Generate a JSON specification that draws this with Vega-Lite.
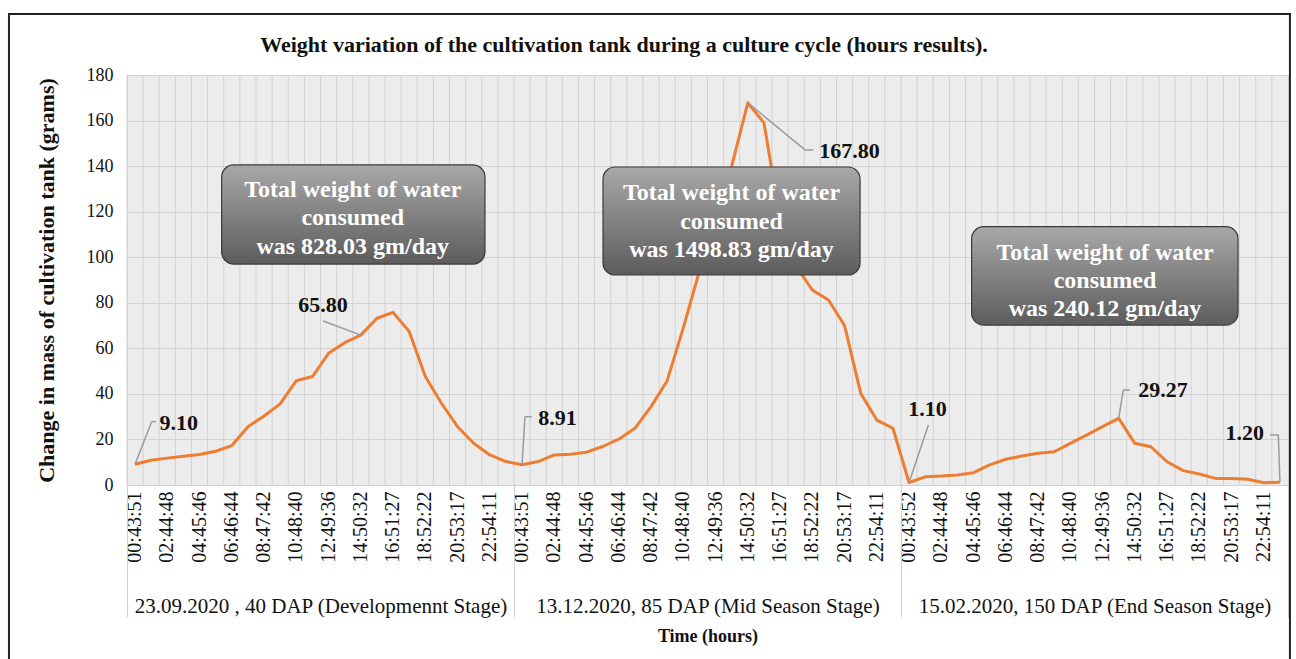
{
  "$schema": "https://vega.github.io/schema/vega-lite/v6.json",
  "width": 1161,
  "height": 410,
  "autosize": {"type": "none"},
  "padding": {"left": 127, "top": 75, "right": 8, "bottom": 174},
  "background": "white",
  "config": {
    "font": "Liberation Serif",
    "text": {"font": "Liberation Serif"},
    "view": {"fill": "#ececec", "stroke": "#d4d4d4"}
  },
  "data": {"values": [{}]},
  "datasets": {
    "series": [
      {"k": "1|00:43:51", "v": 9.10}, {"k": "1|h01", "v": 10.9}, {"k": "1|02:44:48", "v": 11.8}, {"k": "1|h03", "v": 12.6},
      {"k": "1|04:45:46", "v": 13.4}, {"k": "1|h05", "v": 14.8}, {"k": "1|06:46:44", "v": 17.3}, {"k": "1|h07", "v": 25.6},
      {"k": "1|08:47:42", "v": 30.3}, {"k": "1|h09", "v": 35.6}, {"k": "1|10:48:40", "v": 45.8}, {"k": "1|h11", "v": 47.6},
      {"k": "1|12:49:36", "v": 57.8}, {"k": "1|h13", "v": 62.5}, {"k": "1|14:50:32", "v": 65.80}, {"k": "1|h15", "v": 73.2},
      {"k": "1|16:51:27", "v": 75.8}, {"k": "1|h17", "v": 67.4}, {"k": "1|18:52:22", "v": 47.6}, {"k": "1|h19", "v": 35.9},
      {"k": "1|20:53:17", "v": 25.6}, {"k": "1|h21", "v": 18.3}, {"k": "1|22:54:11", "v": 13.2}, {"k": "1|h23", "v": 10.3},
      {"k": "2|00:43:51", "v": 8.91}, {"k": "2|h01", "v": 10.3}, {"k": "2|02:44:48", "v": 13.2}, {"k": "2|h03", "v": 13.5},
      {"k": "2|04:45:46", "v": 14.4}, {"k": "2|h05", "v": 16.9}, {"k": "2|06:46:44", "v": 20.1}, {"k": "2|h07", "v": 24.9},
      {"k": "2|08:47:42", "v": 34.4}, {"k": "2|h09", "v": 45.8}, {"k": "2|10:48:40", "v": 69.0}, {"k": "2|h11", "v": 94.0},
      {"k": "2|12:49:36", "v": 117.0}, {"k": "2|h13", "v": 140.0}, {"k": "2|14:50:32", "v": 167.80}, {"k": "2|h15", "v": 159.0},
      {"k": "2|16:51:27", "v": 117.0}, {"k": "2|h17", "v": 96.0}, {"k": "2|18:52:22", "v": 85.6}, {"k": "2|h19", "v": 81.2},
      {"k": "2|20:53:17", "v": 70.0}, {"k": "2|h21", "v": 40.3}, {"k": "2|22:54:11", "v": 28.5}, {"k": "2|h23", "v": 24.9},
      {"k": "3|00:43:52", "v": 1.10}, {"k": "3|h01", "v": 3.6}, {"k": "3|02:44:48", "v": 3.9}, {"k": "3|h03", "v": 4.4},
      {"k": "3|04:45:46", "v": 5.4}, {"k": "3|h05", "v": 8.8}, {"k": "3|06:46:44", "v": 11.3}, {"k": "3|h07", "v": 12.7},
      {"k": "3|08:47:42", "v": 13.9}, {"k": "3|h09", "v": 14.6}, {"k": "3|10:48:40", "v": 18.3}, {"k": "3|h11", "v": 21.9},
      {"k": "3|12:49:36", "v": 25.6}, {"k": "3|h13", "v": 29.27}, {"k": "3|14:50:32", "v": 18.3}, {"k": "3|h15", "v": 16.8},
      {"k": "3|16:51:27", "v": 10.2}, {"k": "3|h17", "v": 6.3}, {"k": "3|18:52:22", "v": 4.8}, {"k": "3|h19", "v": 2.9},
      {"k": "3|20:53:17", "v": 2.9}, {"k": "3|h21", "v": 2.5}, {"k": "3|22:54:11", "v": 1.0}, {"k": "3|h23", "v": 1.20}
    ],
    "stages": [
      {"stage": "23.09.2020 , 40 DAP (Developmennt Stage)"},
      {"stage": "13.12.2020, 85 DAP (Mid Season Stage)"},
      {"stage": "15.02.2020, 150 DAP (End Season Stage)"}
    ]
  },
  "resolve": {"scale": {"x": "independent", "y": "independent"}, "axis": {"x": "independent", "y": "independent"}},
  "layer": [
    {
      "data": {"name": "series"},
      "mark": {"type": "rule", "color": "#d2d2d2", "strokeWidth": 1},
      "encoding": {
        "x": {"field": "k", "type": "ordinal", "sort": null, "bandPosition": 0,
              "scale": {"type": "band", "paddingInner": 0, "paddingOuter": 0}, "axis": null}
      }
    },
    {
      "data": {"name": "series"},
      "mark": {"type": "line", "color": "#ED7D31", "strokeWidth": 3, "strokeJoin": "round"},
      "encoding": {
        "x": {"field": "k", "type": "ordinal", "sort": null, "bandPosition": 0.5,
              "scale": {"type": "band", "paddingInner": 0, "paddingOuter": 0},
              "axis": {
                "orient": "bottom",
                "values": ["1|00:43:51","1|02:44:48","1|04:45:46","1|06:46:44","1|08:47:42","1|10:48:40","1|12:49:36","1|14:50:32","1|16:51:27","1|18:52:22","1|20:53:17","1|22:54:11",
                           "2|00:43:51","2|02:44:48","2|04:45:46","2|06:46:44","2|08:47:42","2|10:48:40","2|12:49:36","2|14:50:32","2|16:51:27","2|18:52:22","2|20:53:17","2|22:54:11",
                           "3|00:43:52","3|02:44:48","3|04:45:46","3|06:46:44","3|08:47:42","3|10:48:40","3|12:49:36","3|14:50:32","3|16:51:27","3|18:52:22","3|20:53:17","3|22:54:11"],
                "labelExpr": "slice(datum.value, 2)",
                "labelFont": "Liberation Serif",
                "labelAngle": 270, "labelFontSize": 20, "labelColor": "#111111", "labelPadding": 6,
                "labelOverlap": false, "labelBound": false, "labelFlush": false,
                "ticks": false, "domain": true, "domainColor": "#d0d0d0", "grid": false, "title": null
              }},
        "y": {"field": "v", "type": "quantitative",
              "scale": {"domain": [0, 180], "nice": false, "zero": false},
              "axis": {
                "orient": "left",
                "values": [0, 20, 40, 60, 80, 100, 120, 140, 160, 180],
                "grid": true, "gridColor": "#d2d2d2", "domain": false, "ticks": false,
                "labelFont": "Liberation Serif", "titleFont": "Liberation Serif",
                "labelFontSize": 18, "labelColor": "#111111", "labelPadding": 14,
                "title": "Change in mass of cultivation tank (grams)",
                "titleFontSize": 22, "titleFontWeight": "bold", "titleColor": "#111111", "titlePadding": 28
              }}
      }
    },
    {
      "data": {"name": "stages"},
      "mark": {"type": "point", "opacity": 0},
      "encoding": {
        "x": {"field": "stage", "type": "nominal", "sort": null,
              "scale": {"type": "band", "paddingInner": 0, "paddingOuter": 0},
              "axis": {
                "orient": "bottom", "domain": false, "ticks": true, "tickBand": "extent",
                "tickSize": 132, "tickColor": "#d0d0d0", "tickWidth": 1,
                "labelFont": "Liberation Serif", "titleFont": "Liberation Serif",
                "labelFontSize": 21, "labelColor": "#111111", "labelPadding": -11, "labelBaseline": "middle",
                "labelAngle": 0, "labelLimit": 0, "grid": false,
                "title": "Time (hours)", "titleFontSize": 18, "titleFontWeight": "bold", "titleColor": "#111111", "titlePadding": 10
              }}
      }
    },
    {
      "mark": {"type": "text", "font": "Liberation Serif", "align": "center", "baseline": "middle", "fontSize": 22, "fontWeight": "bold", "color": "#111111"},
      "encoding": {
        "x": {"datum": 30.32, "type": "quantitative", "scale": {"domain": [-0.5, 71.5], "nice": false, "zero": false}, "axis": null},
        "y": {"datum": 193.2, "type": "quantitative", "scale": {"domain": [0, 180], "nice": false, "zero": false}, "axis": null},
        "text": {"value": "Weight variation of the cultivation tank during a culture cycle (hours results)."}
      }
    },
    {
      "mark": {"type": "rect", "fillOpacity": 0, "stroke": "#222222", "strokeWidth": 2, "clip": false},
      "encoding": {
        "x": {"datum": -7.82, "type": "quantitative", "scale": {"domain": [-0.5, 71.5], "nice": false, "zero": false}, "axis": null},
        "x2": {"datum": 71.62},
        "y": {"datum": 206.8, "type": "quantitative", "scale": {"domain": [0, 180], "nice": false, "zero": false}, "axis": null},
        "y2": {"datum": -79}
      }
    },
    {
      "mark": {"type": "rect", "cornerRadius": 12, "stroke": "#3a3a3a", "strokeWidth": 1.2,
               "fill": {"gradient": "linear", "x1": 0, "y1": 0, "x2": 0, "y2": 1,
                        "stops": [{"offset": 0, "color": "#a8a8a8"}, {"offset": 1, "color": "#5c5c5c"}]}},
      "encoding": {
        "x": {"datum": 5.37, "type": "quantitative", "scale": {"domain": [-0.5, 71.5], "nice": false, "zero": false}, "axis": null},
        "x2": {"datum": 21.70},
        "y": {"datum": 140.5, "type": "quantitative", "scale": {"domain": [0, 180], "nice": false, "zero": false}, "axis": null},
        "y2": {"datum": 97.0}
      }
    },
    {
      "mark": {"type": "rect", "cornerRadius": 12, "stroke": "#3a3a3a", "strokeWidth": 1.2,
               "fill": {"gradient": "linear", "x1": 0, "y1": 0, "x2": 0, "y2": 1,
                        "stops": [{"offset": 0, "color": "#a8a8a8"}, {"offset": 1, "color": "#5c5c5c"}]}},
      "encoding": {
        "x": {"datum": 29.02, "type": "quantitative", "scale": {"domain": [-0.5, 71.5], "nice": false, "zero": false}, "axis": null},
        "x2": {"datum": 44.96},
        "y": {"datum": 139.6, "type": "quantitative", "scale": {"domain": [0, 180], "nice": false, "zero": false}, "axis": null},
        "y2": {"datum": 92.2}
      }
    },
    {
      "mark": {"type": "rect", "cornerRadius": 12, "stroke": "#3a3a3a", "strokeWidth": 1.2,
               "fill": {"gradient": "linear", "x1": 0, "y1": 0, "x2": 0, "y2": 1,
                        "stops": [{"offset": 0, "color": "#a8a8a8"}, {"offset": 1, "color": "#5c5c5c"}]}},
      "encoding": {
        "x": {"datum": 51.88, "type": "quantitative", "scale": {"domain": [-0.5, 71.5], "nice": false, "zero": false}, "axis": null},
        "x2": {"datum": 68.4},
        "y": {"datum": 113.4, "type": "quantitative", "scale": {"domain": [0, 180], "nice": false, "zero": false}, "axis": null},
        "y2": {"datum": 70.2}
      }
    },
    {
      "mark": {"type": "text", "font": "Liberation Serif", "align": "center", "baseline": "middle", "fontSize": 24, "fontWeight": "bold", "color": "white", "lineHeight": 28.3},
      "encoding": {
        "x": {"datum": 13.5, "type": "quantitative", "scale": {"domain": [-0.5, 71.5], "nice": false, "zero": false}, "axis": null},
        "y": {"datum": 129.5, "type": "quantitative", "scale": {"domain": [0, 180], "nice": false, "zero": false}, "axis": null},
        "text": {"value": ["Total weight of water", "consumed", "was 828.03 gm/day"]}
      }
    },
    {
      "mark": {"type": "text", "font": "Liberation Serif", "align": "center", "baseline": "middle", "fontSize": 24, "fontWeight": "bold", "color": "white", "lineHeight": 28.3},
      "encoding": {
        "x": {"datum": 36.99, "type": "quantitative", "scale": {"domain": [-0.5, 71.5], "nice": false, "zero": false}, "axis": null},
        "y": {"datum": 128.1, "type": "quantitative", "scale": {"domain": [0, 180], "nice": false, "zero": false}, "axis": null},
        "text": {"value": ["Total weight of water", "consumed", "was 1498.83 gm/day"]}
      }
    },
    {
      "mark": {"type": "text", "font": "Liberation Serif", "align": "center", "baseline": "middle", "fontSize": 24, "fontWeight": "bold", "color": "white", "lineHeight": 28.3},
      "encoding": {
        "x": {"datum": 60.15, "type": "quantitative", "scale": {"domain": [-0.5, 71.5], "nice": false, "zero": false}, "axis": null},
        "y": {"datum": 102.0, "type": "quantitative", "scale": {"domain": [0, 180], "nice": false, "zero": false}, "axis": null},
        "text": {"value": ["Total weight of water", "consumed", "was 240.12 gm/day"]}
      }
    },
    {
      "mark": {"type": "rule", "color": "#9a9a9a", "strokeWidth": 1.5},
      "encoding": {
        "x": {"datum": 0, "type": "quantitative", "scale": {"domain": [-0.5, 71.5], "nice": false, "zero": false}, "axis": null},
        "y": {"datum": 9.10, "type": "quantitative", "scale": {"domain": [0, 180], "nice": false, "zero": false}, "axis": null},
        "x2": {"datum": 1.03}, "y2": {"datum": 27.8}
      }
    },
    {
      "mark": {"type": "rule", "color": "#9a9a9a", "strokeWidth": 1.5},
      "encoding": {
        "x": {"datum": 1.03, "type": "quantitative", "scale": {"domain": [-0.5, 71.5], "nice": false, "zero": false}, "axis": null},
        "y": {"datum": 27.8, "type": "quantitative", "scale": {"domain": [0, 180], "nice": false, "zero": false}, "axis": null},
        "x2": {"datum": 1.30}, "y2": {"datum": 27.8}
      }
    },
    {
      "mark": {"type": "text", "font": "Liberation Serif", "align": "left", "baseline": "middle", "fontSize": 22, "fontWeight": "bold", "color": "#111111"},
      "encoding": {
        "x": {"datum": 1.52, "type": "quantitative", "scale": {"domain": [-0.5, 71.5], "nice": false, "zero": false}, "axis": null},
        "y": {"datum": 27.4, "type": "quantitative", "scale": {"domain": [0, 180], "nice": false, "zero": false}, "axis": null},
        "text": {"value": "9.10"}
      }
    },
    {
      "mark": {"type": "rule", "color": "#9a9a9a", "strokeWidth": 1.5},
      "encoding": {
        "x": {"datum": 14, "type": "quantitative", "scale": {"domain": [-0.5, 71.5], "nice": false, "zero": false}, "axis": null},
        "y": {"datum": 65.80, "type": "quantitative", "scale": {"domain": [0, 180], "nice": false, "zero": false}, "axis": null},
        "x2": {"datum": 11.67}, "y2": {"datum": 72.0}
      }
    },
    {
      "mark": {"type": "text", "font": "Liberation Serif", "align": "center", "baseline": "middle", "fontSize": 22, "fontWeight": "bold", "color": "#111111"},
      "encoding": {
        "x": {"datum": 11.66, "type": "quantitative", "scale": {"domain": [-0.5, 71.5], "nice": false, "zero": false}, "axis": null},
        "y": {"datum": 79.0, "type": "quantitative", "scale": {"domain": [0, 180], "nice": false, "zero": false}, "axis": null},
        "text": {"value": "65.80"}
      }
    },
    {
      "mark": {"type": "rule", "color": "#9a9a9a", "strokeWidth": 1.5},
      "encoding": {
        "x": {"datum": 24, "type": "quantitative", "scale": {"domain": [-0.5, 71.5], "nice": false, "zero": false}, "axis": null},
        "y": {"datum": 8.91, "type": "quantitative", "scale": {"domain": [0, 180], "nice": false, "zero": false}, "axis": null},
        "x2": {"datum": 24.18}, "y2": {"datum": 30.0}
      }
    },
    {
      "mark": {"type": "rule", "color": "#9a9a9a", "strokeWidth": 1.5},
      "encoding": {
        "x": {"datum": 24.18, "type": "quantitative", "scale": {"domain": [-0.5, 71.5], "nice": false, "zero": false}, "axis": null},
        "y": {"datum": 30.0, "type": "quantitative", "scale": {"domain": [0, 180], "nice": false, "zero": false}, "axis": null},
        "x2": {"datum": 24.60}, "y2": {"datum": 30.0}
      }
    },
    {
      "mark": {"type": "text", "font": "Liberation Serif", "align": "left", "baseline": "middle", "fontSize": 22, "fontWeight": "bold", "color": "#111111"},
      "encoding": {
        "x": {"datum": 25.0, "type": "quantitative", "scale": {"domain": [-0.5, 71.5], "nice": false, "zero": false}, "axis": null},
        "y": {"datum": 29.6, "type": "quantitative", "scale": {"domain": [0, 180], "nice": false, "zero": false}, "axis": null},
        "text": {"value": "8.91"}
      }
    },
    {
      "mark": {"type": "rule", "color": "#9a9a9a", "strokeWidth": 1.5},
      "encoding": {
        "x": {"datum": 38, "type": "quantitative", "scale": {"domain": [-0.5, 71.5], "nice": false, "zero": false}, "axis": null},
        "y": {"datum": 167.80, "type": "quantitative", "scale": {"domain": [0, 180], "nice": false, "zero": false}, "axis": null},
        "x2": {"datum": 41.55}, "y2": {"datum": 147.1}
      }
    },
    {
      "mark": {"type": "rule", "color": "#9a9a9a", "strokeWidth": 1.5},
      "encoding": {
        "x": {"datum": 41.55, "type": "quantitative", "scale": {"domain": [-0.5, 71.5], "nice": false, "zero": false}, "axis": null},
        "y": {"datum": 147.1, "type": "quantitative", "scale": {"domain": [0, 180], "nice": false, "zero": false}, "axis": null},
        "x2": {"datum": 42.06}, "y2": {"datum": 147.1}
      }
    },
    {
      "mark": {"type": "text", "font": "Liberation Serif", "align": "left", "baseline": "middle", "fontSize": 22, "fontWeight": "bold", "color": "#111111"},
      "encoding": {
        "x": {"datum": 42.43, "type": "quantitative", "scale": {"domain": [-0.5, 71.5], "nice": false, "zero": false}, "axis": null},
        "y": {"datum": 146.7, "type": "quantitative", "scale": {"domain": [0, 180], "nice": false, "zero": false}, "axis": null},
        "text": {"value": "167.80"}
      }
    },
    {
      "mark": {"type": "rule", "color": "#9a9a9a", "strokeWidth": 1.5},
      "encoding": {
        "x": {"datum": 48, "type": "quantitative", "scale": {"domain": [-0.5, 71.5], "nice": false, "zero": false}, "axis": null},
        "y": {"datum": 1.10, "type": "quantitative", "scale": {"domain": [0, 180], "nice": false, "zero": false}, "axis": null},
        "x2": {"datum": 49.2}, "y2": {"datum": 26.3}
      }
    },
    {
      "mark": {"type": "text", "font": "Liberation Serif", "align": "center", "baseline": "middle", "fontSize": 22, "fontWeight": "bold", "color": "#111111"},
      "encoding": {
        "x": {"datum": 49.14, "type": "quantitative", "scale": {"domain": [-0.5, 71.5], "nice": false, "zero": false}, "axis": null},
        "y": {"datum": 33.4, "type": "quantitative", "scale": {"domain": [0, 180], "nice": false, "zero": false}, "axis": null},
        "text": {"value": "1.10"}
      }
    },
    {
      "mark": {"type": "rule", "color": "#9a9a9a", "strokeWidth": 1.5},
      "encoding": {
        "x": {"datum": 61, "type": "quantitative", "scale": {"domain": [-0.5, 71.5], "nice": false, "zero": false}, "axis": null},
        "y": {"datum": 29.27, "type": "quantitative", "scale": {"domain": [0, 180], "nice": false, "zero": false}, "axis": null},
        "x2": {"datum": 61.29}, "y2": {"datum": 41.7}
      }
    },
    {
      "mark": {"type": "rule", "color": "#9a9a9a", "strokeWidth": 1.5},
      "encoding": {
        "x": {"datum": 61.29, "type": "quantitative", "scale": {"domain": [-0.5, 71.5], "nice": false, "zero": false}, "axis": null},
        "y": {"datum": 41.7, "type": "quantitative", "scale": {"domain": [0, 180], "nice": false, "zero": false}, "axis": null},
        "x2": {"datum": 61.71}, "y2": {"datum": 41.7}
      }
    },
    {
      "mark": {"type": "text", "font": "Liberation Serif", "align": "left", "baseline": "middle", "fontSize": 22, "fontWeight": "bold", "color": "#111111"},
      "encoding": {
        "x": {"datum": 62.22, "type": "quantitative", "scale": {"domain": [-0.5, 71.5], "nice": false, "zero": false}, "axis": null},
        "y": {"datum": 41.9, "type": "quantitative", "scale": {"domain": [0, 180], "nice": false, "zero": false}, "axis": null},
        "text": {"value": "29.27"}
      }
    },
    {
      "mark": {"type": "rule", "color": "#9a9a9a", "strokeWidth": 1.5},
      "encoding": {
        "x": {"datum": 71, "type": "quantitative", "scale": {"domain": [-0.5, 71.5], "nice": false, "zero": false}, "axis": null},
        "y": {"datum": 1.20, "type": "quantitative", "scale": {"domain": [0, 180], "nice": false, "zero": false}, "axis": null},
        "x2": {"datum": 70.90}, "y2": {"datum": 22.0}
      }
    },
    {
      "mark": {"type": "rule", "color": "#9a9a9a", "strokeWidth": 1.5},
      "encoding": {
        "x": {"datum": 70.90, "type": "quantitative", "scale": {"domain": [-0.5, 71.5], "nice": false, "zero": false}, "axis": null},
        "y": {"datum": 22.0, "type": "quantitative", "scale": {"domain": [0, 180], "nice": false, "zero": false}, "axis": null},
        "x2": {"datum": 70.39}, "y2": {"datum": 22.0}
      }
    },
    {
      "mark": {"type": "text", "font": "Liberation Serif", "align": "right", "baseline": "middle", "fontSize": 22, "fontWeight": "bold", "color": "#111111"},
      "encoding": {
        "x": {"datum": 70.01, "type": "quantitative", "scale": {"domain": [-0.5, 71.5], "nice": false, "zero": false}, "axis": null},
        "y": {"datum": 22.7, "type": "quantitative", "scale": {"domain": [0, 180], "nice": false, "zero": false}, "axis": null},
        "text": {"value": "1.20"}
      }
    }
  ]
}
